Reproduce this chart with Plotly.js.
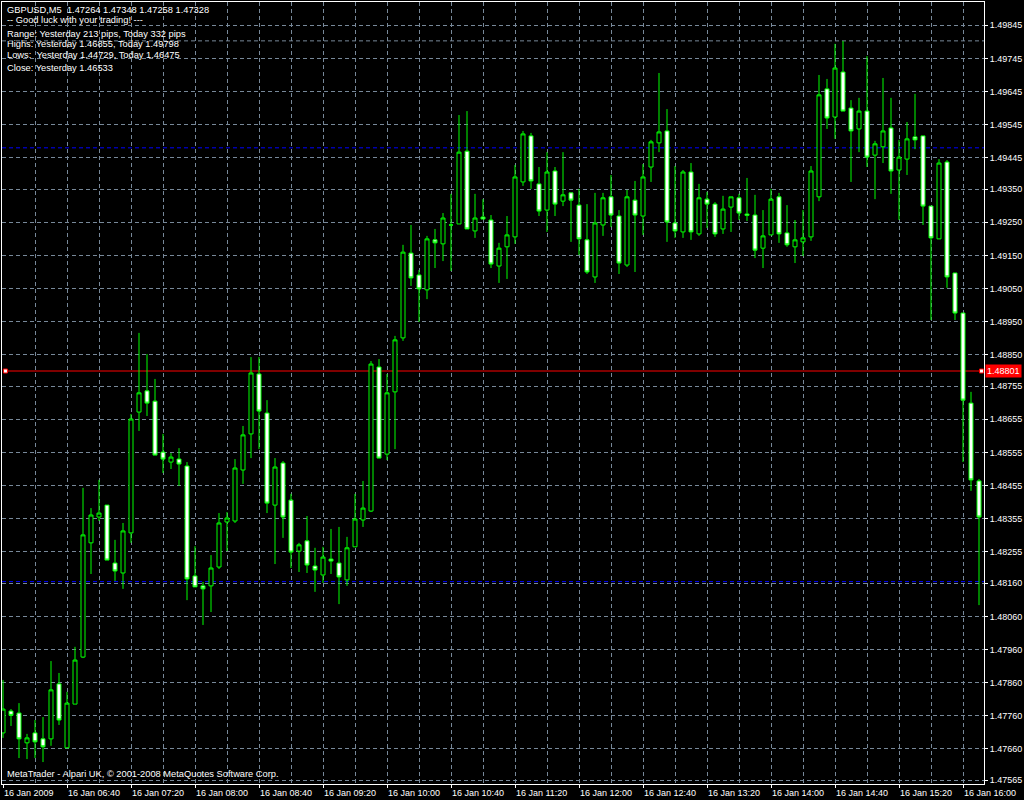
<!DOCTYPE html>
<html><head><meta charset="utf-8">
<script src="https://cdn.plot.ly/plotly-3.0.1.min.js"></script>
<style>html,body{margin:0;padding:0;background:#000;}#chart{width:1024px;height:800px;}</style>
</head><body><div id="chart"></div>
<script>
// ---- data (GBPUSD, M5, 16 Jan 2009, bars from 06:00) ----
const open = [1.47708,1.47774,1.47768,1.47678,1.47708,1.47690,1.47690,1.47856,1.47663,1.47795,
1.47937,1.48282,1.48360,1.48396,1.48221,1.48191,1.48312,1.48677,1.48741,1.48710,
1.48556,1.48526,1.48535,1.48514,1.48182,1.48152,1.48152,1.48209,1.48345,1.48348,
1.48502,1.48611,1.48792,1.48674,1.48396,1.48523,1.48411,1.48257,1.48288,1.48212,
1.48185,1.48233,1.48221,1.48170,1.48270,1.48351,1.48378,1.48813,1.48550,1.48738,
1.48901,1.49157,1.49091,1.49046,1.49197,1.49185,1.49242,1.49245,1.49465,1.49224,
1.49266,1.49257,1.49118,1.49176,1.49206,1.49372,1.49511,1.49366,1.49287,1.49405,
1.49314,1.49339,1.49302,1.49197,1.49085,1.49242,1.49327,1.49269,1.49121,1.49317,
1.49269,1.49417,1.49490,1.49526,1.49248,1.49221,1.49402,1.49215,1.49320,1.49305,
1.49230,1.49296,1.49324,1.49275,1.49272,1.49172,1.49212,1.49327,1.49218,1.49176,
1.49191,1.49206,1.49327,1.49653,1.49568,1.49704,1.49595,1.49532,1.49586,1.49453,
1.49478,1.49535,1.49408,1.49441,1.49508,1.49511,1.49299,1.49200,1.49432,1.49097,
1.48976,1.48704,1.48469];
const high = [1.47868,1.47780,1.47798,1.47705,1.47747,1.47756,1.47925,1.47889,1.47832,1.47968,
1.48448,1.48387,1.48472,1.48396,1.48291,1.48342,1.48671,1.48916,1.48852,1.48777,
1.48611,1.48553,1.48568,1.48526,1.48272,1.48164,1.48245,1.48372,1.48375,1.48535,
1.48635,1.48843,1.48843,1.48713,1.48538,1.48529,1.48430,1.48282,1.48363,1.48267,
1.48270,1.48324,1.48330,1.48300,1.48430,1.48469,1.48831,1.48837,1.48792,1.48907,
1.49182,1.49242,1.49106,1.49209,1.49230,1.49278,1.49336,1.49574,1.49586,1.49336,
1.49320,1.49272,1.49188,1.49269,1.49423,1.49526,1.49520,1.49417,1.49462,1.49417,
1.49462,1.49339,1.49351,1.49305,1.49339,1.49339,1.49393,1.49287,1.49348,1.49375,
1.49426,1.49499,1.49701,1.49592,1.49420,1.49408,1.49429,1.49366,1.49342,1.49311,
1.49330,1.49327,1.49336,1.49384,1.49333,1.49287,1.49351,1.49339,1.49302,1.49257,
1.49287,1.49420,1.49695,1.49683,1.49789,1.49798,1.49619,1.49626,1.49752,1.49496,
1.49686,1.49626,1.49499,1.49553,1.49638,1.49511,1.49299,1.49441,1.49438,1.49097,
1.48976,1.48738,1.48475];
const low = [1.47693,1.47729,1.47632,1.47629,1.47632,1.47620,1.47669,1.47732,1.47663,1.47795,
1.47934,1.48188,1.48348,1.48230,1.48167,1.48143,1.48282,1.48620,1.48665,1.48547,
1.48493,1.48505,1.48454,1.48109,1.48149,1.48034,1.48073,1.48203,1.48257,1.48342,
1.48460,1.48538,1.48565,1.48372,1.48218,1.48297,1.48206,1.48194,1.48191,1.48134,
1.48161,1.48188,1.48097,1.48152,1.48270,1.48330,1.48375,1.48538,1.48532,1.48565,
1.48892,1.49058,1.48949,1.49018,1.49112,1.49133,1.49103,1.49245,1.49230,1.49203,
1.49260,1.49112,1.49067,1.49079,1.49185,1.49360,1.49351,1.49269,1.49221,1.49269,
1.49299,1.49191,1.49151,1.49094,1.49067,1.49209,1.49236,1.49094,1.49115,1.49100,
1.49212,1.49372,1.49462,1.49191,1.49203,1.49203,1.49197,1.49209,1.49233,1.49206,
1.49215,1.49221,1.49257,1.49254,1.49142,1.49112,1.49212,1.49188,1.49176,1.49127,
1.49148,1.49194,1.49314,1.49532,1.49502,1.49586,1.49372,1.49462,1.49417,1.49320,
1.49429,1.49336,1.49257,1.49393,1.49471,1.49242,1.48955,1.49200,1.49052,1.48955,
1.48526,1.48439,1.48094];
const close = [1.47780,1.47761,1.47690,1.47693,1.47681,1.47666,1.47838,1.47747,1.47798,1.47928,
1.48306,1.48366,1.48372,1.48230,1.48197,1.48318,1.48656,1.48735,1.48704,1.48547,
1.48535,1.48541,1.48520,1.48173,1.48149,1.48143,1.48206,1.48342,1.48357,1.48508,
1.48608,1.48795,1.48680,1.48402,1.48511,1.48360,1.48254,1.48276,1.48215,1.48200,
1.48239,1.48227,1.48179,1.48267,1.48354,1.48387,1.48822,1.48538,1.48735,1.48895,
1.49160,1.49082,1.49049,1.49200,1.49188,1.49263,1.49242,1.49462,1.49230,1.49263,
1.49260,1.49124,1.49172,1.49212,1.49387,1.49517,1.49375,1.49284,1.49402,1.49305,
1.49333,1.49317,1.49200,1.49100,1.49248,1.49324,1.49272,1.49127,1.49327,1.49272,
1.49387,1.49493,1.49523,1.49251,1.49224,1.49402,1.49221,1.49324,1.49305,1.49215,
1.49290,1.49327,1.49278,1.49271,1.49166,1.49209,1.49320,1.49215,1.49182,1.49197,
1.49203,1.49405,1.49635,1.49565,1.49716,1.49586,1.49526,1.49586,1.49447,1.49487,
1.49526,1.49405,1.49447,1.49502,1.49499,1.49299,1.49203,1.49429,1.49085,1.48976,
1.48713,1.48472,1.48360];

const timeLabelBars = [0,8,16,24,32,40,48,56,64,72,80,88,96,104,112,120];
const timeLabels = ["16 Jan 2009","16 Jan 06:40","16 Jan 07:20","16 Jan 08:00","16 Jan 08:40",
  "16 Jan 09:20","16 Jan 10:00","16 Jan 10:40","16 Jan 11:20","16 Jan 12:00","16 Jan 12:40",
  "16 Jan 13:20","16 Jan 14:00","16 Jan 14:40","16 Jan 15:20","16 Jan 16:00"];
const priceTicks = [1.49845,1.49745,1.49645,1.49545,1.49445,1.49350,1.49250,1.49150,1.49050,
  1.48950,1.48850,1.48755,1.48655,1.48555,1.48455,1.48355,1.48255,1.48160,1.48060,1.47960,
  1.47860,1.47760,1.47660,1.47565];
const priceTickText = ["1.49845","1.49745","1.49645","1.49545","1.49445","1.49350","1.49250",
  "1.49150","1.49050","1.48950","1.48850","1.48755","1.48655","1.48555","1.48455","1.48355",
  "1.48255","1.48160","1.48060","1.47960","1.47860","1.47760","1.47660","1.47565"];
const hlinePrice = 1.48801;
const hlineText = "1.48801";
const blueLevels = [1.49475, 1.48165];
const todayHigh = 1.49798;
const infoLines = [
  "GBPUSD,M5 \u00a01.47264 1.47348 1.47258 1.47328",
  "-- Good luck with your trading! ---",
  "Range: Yesterday 213 pips, Today 332 pips",
  "Highs: Yesterday 1.46855, Today 1.49798",
  "Lows: \u00a0Yesterday 1.44729, Today 1.46475",
  "Close: Yesterday 1.46533"];
const copyright = "MetaTrader - Alpari UK, \u00a9 2001-2008 MetaQuotes Software Corp.";

// ---- chart ----
const bar = open.map((_, i) => i);
const GRID = '#778899';
const FONT = 'Liberation Sans, Arial, sans-serif';

const trace = {
  type: 'candlestick', x: bar, open: open, high: high, low: low, close: close,
  increasing: {line: {color: '#00ff00', width: 1}, fillcolor: '#000000'},
  decreasing: {line: {color: '#00ff00', width: 1}, fillcolor: '#ffffff'},
  whiskerwidth: 0, hoverinfo: 'skip', showlegend: false
};

const infoCenters = [10.3, 20.3, 34.2, 44, 55, 68.3];
const annotations = infoLines.map((t, i) => ({
  text: t, xref: 'paper', yref: 'paper', x: 0, y: 1, xanchor: 'left', yanchor: 'middle',
  xshift: 3, yshift: -(infoCenters[i] - 2), showarrow: false,
  font: {family: FONT, size: 9.3, color: '#ffffff'}
}));
annotations.push({
  text: copyright, xref: 'paper', yref: 'paper', x: 0, y: 0, xanchor: 'left', yanchor: 'middle',
  xshift: 3, yshift: 9.7, showarrow: false, font: {family: FONT, size: 9.3, color: '#ffffff'}
});
annotations.push({
  text: hlineText, xref: 'paper', yref: 'y', x: 1, y: hlinePrice, xanchor: 'left', yanchor: 'middle',
  xshift: 1, showarrow: false, bgcolor: '#ff0000', borderpad: 1,
  font: {family: FONT, size: 9, color: '#ffffff'}
});

const shapes = [];
blueLevels.forEach(v => shapes.push({type: 'line', xref: 'paper', yref: 'y', x0: 0, x1: 1, y0: v, y1: v,
  line: {color: '#0000ff', width: 1, dash: '4px,3px'}, layer: 'between'}));
shapes.push({type: 'line', xref: 'paper', yref: 'y', x0: 0, x1: 1, y0: todayHigh, y1: todayHigh,
  line: {color: GRID, width: 1, dash: '4px,3px'}, layer: 'between'});
shapes.push({type: 'line', xref: 'paper', yref: 'y', x0: 0.003, x1: 0.997, y0: hlinePrice, y1: hlinePrice,
  line: {color: '#ff0000', width: 1}, layer: 'between'});
[0.0035, 0.9975].forEach(a => shapes.push({type: 'rect', xref: 'paper', yref: 'y',
  xsizemode: 'pixel', ysizemode: 'pixel', xanchor: a, yanchor: hlinePrice,
  x0: -2, x1: 2, y0: -2, y1: 2, fillcolor: '#ffffff', line: {color: '#ff0000', width: 1}}));

const layout = {
  width: 1024, height: 800,
  margin: {l: 2, r: 40, t: 2, b: 16, pad: 0},
  paper_bgcolor: '#000000', plot_bgcolor: '#000000',
  font: {family: FONT, size: 9, color: '#ffffff'},
  showlegend: false,
  boxgap: 0.5, boxgroupgap: 0,
  xaxis: {
    range: [-0.125, 122.625], rangeslider: {visible: false},
    tickmode: 'array', tickvals: timeLabelBars, ticktext: timeLabels,
    ticks: 'outside', ticklen: 3, tickcolor: '#ffffff', tickwidth: 1,
    ticklabelposition: 'outside right',
    tickfont: {family: FONT, size: 9, color: '#ffffff'},
    showgrid: true, gridcolor: GRID, griddash: '4px,3px', gridwidth: 1,
    minor: {tickmode: 'linear', tick0: 0, dtick: 4, showgrid: true, gridcolor: GRID,
      griddash: '4px,3px', gridwidth: 1, ticks: ''},
    showline: true, linecolor: '#ffffff', linewidth: 1, mirror: true, zeroline: false
  },
  yaxis: {
    side: 'right', range: [1.475537, 1.499154],
    tickmode: 'array', tickvals: priceTicks, ticktext: priceTickText,
    ticks: 'outside', ticklen: 3, tickcolor: '#ffffff', tickwidth: 1,
    tickfont: {family: FONT, size: 9, color: '#ffffff'},
    showgrid: true, gridcolor: GRID, griddash: '4px,3px', gridwidth: 1,
    showline: true, linecolor: '#ffffff', linewidth: 1, mirror: true, zeroline: false
  },
  shapes: shapes,
  annotations: annotations
};

Plotly.newPlot('chart', [trace], layout, {displayModeBar: false, staticPlot: true});
</script>
</body></html>
